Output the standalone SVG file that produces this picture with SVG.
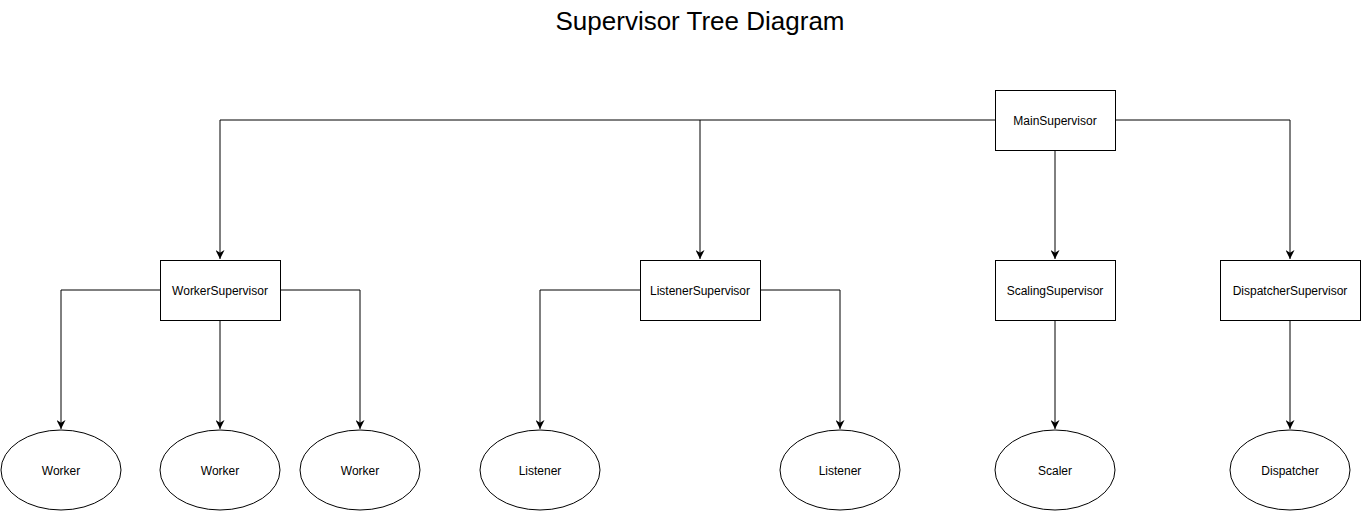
<svg xmlns="http://www.w3.org/2000/svg" width="1361" height="518" viewBox="0 0 1361 518">
<style>
.box{fill:#fff;stroke:#000;stroke-width:1}
.lbl{font-family:"Liberation Sans",Arial,sans-serif;font-size:12px;fill:#000;text-anchor:middle;dominant-baseline:central}
.edge{fill:none;stroke:#000;stroke-width:1}
.title{font-family:"Liberation Sans",Arial,sans-serif;font-size:26px;fill:#000;text-anchor:middle}
</style>
<defs>
<marker id="arr" viewBox="0 0 10 10" refX="10" refY="5" markerWidth="9" markerHeight="9" markerUnits="userSpaceOnUse" orient="auto">
<path d="M0,0 L10,5 L0,10 L3,5 z" fill="#000"/>
</marker>
</defs>
<rect width="1361" height="518" fill="#fff"/>
<text class="title" x="700" y="30">Supervisor Tree Diagram</text>
<g id="connectors">
<path class="edge" d="M995,120 H220 V259" marker-end="url(#arr)"/>
<path class="edge" d="M700,120 V259" marker-end="url(#arr)"/>
<path class="edge" d="M1055,150 V259" marker-end="url(#arr)"/>
<path class="edge" d="M1115,120 H1290 V259" marker-end="url(#arr)"/>
<path class="edge" d="M160,290 H61 V429" marker-end="url(#arr)"/>
<path class="edge" d="M220,320 V429" marker-end="url(#arr)"/>
<path class="edge" d="M280,290 H360 V429" marker-end="url(#arr)"/>
<path class="edge" d="M640,290 H540 V429" marker-end="url(#arr)"/>
<path class="edge" d="M760,290 H840 V429" marker-end="url(#arr)"/>
<path class="edge" d="M1055,320 V429" marker-end="url(#arr)"/>
<path class="edge" d="M1290,320 V429" marker-end="url(#arr)"/>
</g>
<g id="MainSupervisor"><rect class="box" x="995.5" y="90.5" width="120" height="60"/><text class="lbl" x="1055" y="121">MainSupervisor</text></g>
<g id="WorkerSupervisor"><rect class="box" x="160.5" y="260.5" width="120" height="60"/><text class="lbl" x="220" y="291">WorkerSupervisor</text></g>
<g id="ListenerSupervisor"><rect class="box" x="640.5" y="260.5" width="120" height="60"/><text class="lbl" x="700" y="291">ListenerSupervisor</text></g>
<g id="ScalingSupervisor"><rect class="box" x="995.5" y="260.5" width="120" height="60"/><text class="lbl" x="1055" y="291">ScalingSupervisor</text></g>
<g id="DispatcherSupervisor"><rect class="box" x="1220.5" y="260.5" width="140" height="60"/><text class="lbl" x="1290" y="291">DispatcherSupervisor</text></g>
<g id="Worker1"><ellipse class="box" cx="61" cy="470" rx="60" ry="40"/><text class="lbl" x="61" y="471">Worker</text></g>
<g id="Worker2"><ellipse class="box" cx="220" cy="470" rx="60" ry="40"/><text class="lbl" x="220" y="471">Worker</text></g>
<g id="Worker3"><ellipse class="box" cx="360" cy="470" rx="60" ry="40"/><text class="lbl" x="360" y="471">Worker</text></g>
<g id="Listener1"><ellipse class="box" cx="540" cy="470" rx="60" ry="40"/><text class="lbl" x="540" y="471">Listener</text></g>
<g id="Listener2"><ellipse class="box" cx="840" cy="470" rx="60" ry="40"/><text class="lbl" x="840" y="471">Listener</text></g>
<g id="Scaler"><ellipse class="box" cx="1055" cy="470" rx="60" ry="40"/><text class="lbl" x="1055" y="471">Scaler</text></g>
<g id="Dispatcher"><ellipse class="box" cx="1290" cy="470" rx="60" ry="40"/><text class="lbl" x="1290" y="471">Dispatcher</text></g>
</svg>
